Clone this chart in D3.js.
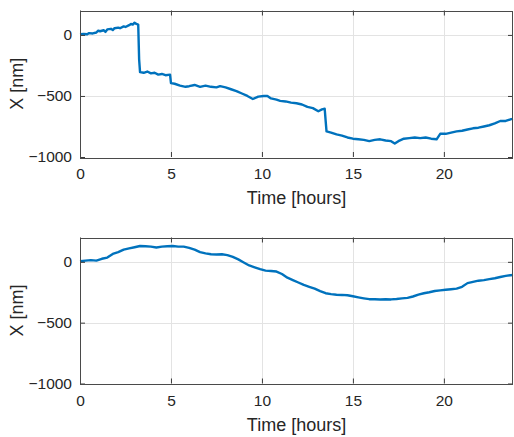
<!DOCTYPE html>
<html lang="en">
<head>
    <meta charset="UTF-8">
    <title>X drift over time</title>
    <script src="https://d3js.org/d3.v7.min.js"></script>
    <style>
        body { margin: 0; background: #fff; }
        svg { display: block; font-family: 'Liberation Sans', Arial, sans-serif; }
        .grid line { stroke: #e3e3e3; stroke-width: 1; }
        .box { fill: none; stroke: #4a4a4a; stroke-width: 1; }
        .tick text { fill: #262626; font-size: 15.5px; }
        .tick line { stroke: #3a3a3a; }
        .domain { display: none; }
        .trace { fill: none; stroke: #0072bd; stroke-width: 2.4; stroke-linejoin: round; }
        .label { fill: #262626; font-size: 18px; }
    </style>
</head>
<body>
    <div id="chart"></div>

    <script>
        // tick labels
        const xTicks = [0, 5, 10, 15, 20];
        const yTicks = [-1000, -500, 0];

        // top panel (with jumps)
        const topTime = [0, 0.2, 0.4, 0.5, 0.7, 0.9, 1.0, 1.1, 1.3, 1.4, 1.5, 1.7, 1.8, 1.9, 2.1, 2.2, 2.4, 2.5, 2.7, 2.8, 2.9, 3.0, 3.1, 3.2,
            3.25, 3.3, 3.5, 3.7, 3.9, 4.1, 4.3, 4.5, 4.7, 4.95, 5.0, 5.2, 5.5, 5.8, 6.0, 6.3, 6.6, 6.9, 7.2, 7.5, 7.7, 8.0,
            8.3, 8.6, 8.9, 9.2, 9.5, 9.8, 10.1, 10.3, 10.5, 10.8, 11.0, 11.3, 11.6, 11.9, 12.2, 12.5, 12.8, 13.1, 13.3, 13.45,
            13.5, 13.55, 13.8, 14.1, 14.4, 14.7, 15.0, 15.3, 15.6, 15.9, 16.2, 16.5, 16.8, 17.1, 17.3, 17.5, 17.8, 18.1, 18.4,
            18.7, 19.0, 19.3, 19.6, 19.8, 20.1, 20.4, 20.7, 21.0, 21.3, 21.6, 21.9, 22.2, 22.5, 22.8, 23.1, 23.4, 23.7, 23.8];
        const topX = [5, 8, 5, 15, 12, 20, 35, 30, 38, 25, 45, 50, 40, 55, 60, 55, 70, 65, 80, 90, 85, 100, 90, 85,
            -200, -305, -310, -300, -315, -310, -325, -320, -330, -325, -395, -400, -415, -425, -420, -410, -425, -415, -425, -430, -420, -430,
            -445, -460, -480, -500, -525, -505, -500, -500, -520, -530, -540, -545, -555, -560, -570, -590, -600, -625, -610, -605,
            -700, -790, -800, -815, -825, -840, -850, -855, -860, -870, -860, -855, -865, -870, -890, -870, -850, -845, -840,
            -845, -840, -850, -855, -810, -810, -800, -790, -785, -775, -765, -760, -750, -740, -725, -705, -705, -690, -688];

        // bottom panel (smooth)
        const bottomTime = [0, 0.3, 0.6, 0.9, 1.2, 1.5, 1.8, 2.1, 2.4, 2.7, 3.0, 3.3, 3.6, 3.9, 4.2, 4.5, 4.8, 5.1, 5.4, 5.7,
            6.0, 6.3, 6.6, 6.9, 7.2, 7.5, 7.8, 8.1, 8.4, 8.7, 9.0, 9.3, 9.6, 9.9, 10.2, 10.5, 10.8, 11.1, 11.4, 11.7,
            12.0, 12.3, 12.6, 12.9, 13.2, 13.5, 13.8, 14.1, 14.4, 14.7, 15.0, 15.3, 15.6, 15.9, 16.2, 16.5, 16.8, 17.1,
            17.4, 17.7, 18.0, 18.3, 18.6, 18.9, 19.2, 19.5, 19.8, 20.1, 20.4, 20.7, 21.0, 21.3, 21.6, 21.9, 22.2, 22.5,
            22.8, 23.1, 23.4, 23.8];
        const bottomX = [5, 10, 14, 10, 25, 35, 65, 80, 100, 110, 120, 130, 128, 125, 118, 125, 128, 130, 125, 125,
            115, 100, 80, 70, 62, 60, 62, 55, 40, 20, -5, -30, -45, -60, -72, -75, -80, -100, -130, -150,
            -170, -190, -205, -220, -240, -258, -265, -270, -272, -275, -283, -292, -300, -307, -308, -310, -308, -309,
            -305, -300, -296, -285, -270, -258, -250, -240, -235, -230, -225, -220, -205, -175, -165, -155, -150, -142,
            -135, -125, -115, -108];

        const width = 514, height = 437;
        const left = 80, right = 513;
        const panels = [
            { time: topTime, values: topX, top: 10.5, bottom: 157 },
            { time: bottomTime, values: bottomX, top: 237.5, bottom: 383.5 }
        ];

        const svg = d3.select("#chart").append("svg")
            .attr("width", width)
            .attr("height", height);

        const x = d3.scaleLinear().domain([0, 23.8]).range([left, right]);

        panels.forEach(p => {
            const y = d3.scaleLinear().domain([-1000, 200]).range([p.bottom, p.top]);
            const g = svg.append("g");

            // grid
            const grid = g.append("g").attr("class", "grid");
            grid.selectAll(".gx").data(xTicks.slice(1)).enter().append("line")
                .attr("x1", d => Math.round(x(d)) + 0.5).attr("x2", d => Math.round(x(d)) + 0.5)
                .attr("y1", p.top).attr("y2", p.bottom);
            grid.selectAll(".gy").data(yTicks.slice(1)).enter().append("line")
                .attr("y1", d => Math.round(y(d)) + 0.5).attr("y2", d => Math.round(y(d)) + 0.5)
                .attr("x1", left).attr("x2", right);

            // data
            const line = d3.line()
                .x((d, i) => x(p.time[i]))
                .y(d => y(d));
            g.append("path").attr("class", "trace").attr("d", line(p.values));

            // axes, ticks pointing inward
            g.append("g").attr("transform", `translate(0,${p.bottom})`)
                .call(d3.axisBottom(x).tickValues(xTicks).tickSize(-5).tickPadding(11).tickFormat(d3.format("d")));
            g.append("g").attr("transform", `translate(0,${p.top})`)
                .call(d3.axisTop(x).tickValues(xTicks).tickSize(-5).tickFormat(""));
            g.append("g").attr("transform", `translate(${left},0)`)
                .call(d3.axisLeft(y).tickValues(yTicks).tickSize(-5).tickPadding(8).tickFormat(d3.format("d")));
            g.append("g").attr("transform", `translate(${right},0)`)
                .call(d3.axisRight(y).tickValues(yTicks).tickSize(-5).tickFormat(""));

            g.append("rect").attr("class", "box")
                .attr("x", left + 0.5).attr("y", Math.round(p.top) + 0.5)
                .attr("width", right - left - 1).attr("height", Math.round(p.bottom - p.top));

            g.append("text").attr("class", "label")
                .attr("x", (left + right) / 2).attr("y", p.bottom + 47)
                .attr("text-anchor", "middle")
                .text("Time [hours]");

            g.append("text").attr("class", "label")
                .attr("transform", `translate(23,${(p.top + p.bottom) / 2}) rotate(-90)`)
                .attr("text-anchor", "middle")
                .text("X [nm]");
        });
    </script>
</body>
</html>
